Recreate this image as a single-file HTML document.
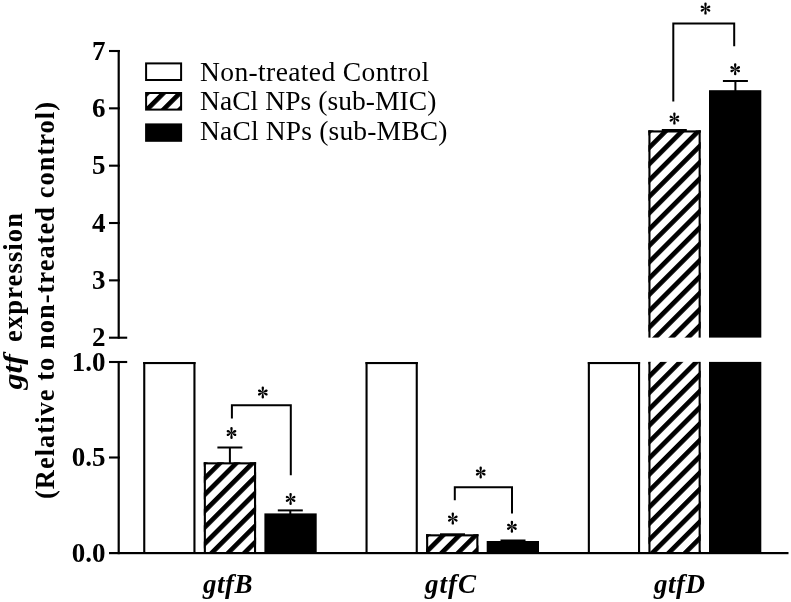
<!DOCTYPE html>
<html><head><meta charset="utf-8"><style>html,body{margin:0;padding:0;background:#fff;}svg{display:block;filter:grayscale(1);}</style></head>
<body><svg width="791" height="602" viewBox="0 0 791 602">
<defs>
<pattern id="pB" patternUnits="userSpaceOnUse" width="11.5541" height="20" patternTransform="translate(679.68,0) rotate(45)"><rect x="0" y="-1" width="4.7" height="22" fill="#000"/></pattern>
<pattern id="pC" patternUnits="userSpaceOnUse" width="11.5541" height="20" patternTransform="translate(991.28,0) rotate(45)"><rect x="0" y="-1" width="4.7" height="22" fill="#000"/></pattern>
<pattern id="pD" patternUnits="userSpaceOnUse" width="11.5541" height="20" patternTransform="translate(1022.28,0) rotate(45)"><rect x="0" y="-1" width="4.7" height="22" fill="#000"/></pattern>
<pattern id="pL" patternUnits="userSpaceOnUse" width="11.5541" height="20" patternTransform="translate(253.28,0) rotate(45)"><rect x="0" y="-1" width="4.7" height="22" fill="#000"/></pattern>
</defs>
<rect width="791" height="602" fill="#fff"/>
<g fill="#000">
<rect x="143.20" y="362" width="52.3" height="191.00" fill="#fff"/>
<rect x="143.20" y="362" width="2.1" height="191.00"/>
<rect x="193.40" y="362" width="2.1" height="191.00"/>
<rect x="143.20" y="362" width="52.3" height="2.1"/>
<rect x="203.80" y="462.3" width="52.3" height="90.70" fill="url(#pB)"/>
<rect x="203.80" y="462.3" width="2.1" height="90.70"/>
<rect x="254.00" y="462.3" width="2.1" height="90.70"/>
<rect x="203.80" y="462.3" width="52.3" height="2.1"/>
<rect x="264.40" y="513.4" width="52.3" height="39.60"/>
<rect x="365.50" y="362" width="52.3" height="191.00" fill="#fff"/>
<rect x="365.50" y="362" width="2.1" height="191.00"/>
<rect x="415.70" y="362" width="2.1" height="191.00"/>
<rect x="365.50" y="362" width="52.3" height="2.1"/>
<rect x="426.10" y="534.3" width="52.3" height="18.70" fill="url(#pC)"/>
<rect x="426.10" y="534.3" width="2.1" height="18.70"/>
<rect x="476.30" y="534.3" width="2.1" height="18.70"/>
<rect x="426.10" y="534.3" width="52.3" height="2.1"/>
<rect x="486.70" y="541.0" width="52.3" height="12.00"/>
<rect x="587.80" y="362" width="52.3" height="191.00" fill="#fff"/>
<rect x="587.80" y="362" width="2.1" height="191.00"/>
<rect x="638.00" y="362" width="2.1" height="191.00"/>
<rect x="587.80" y="362" width="52.3" height="2.1"/>
<rect x="648.40" y="361.9" width="52.3" height="191.10" fill="url(#pD)"/>
<rect x="648.40" y="361.9" width="2.1" height="191.10"/>
<rect x="698.60" y="361.9" width="2.1" height="191.10"/>
<rect x="648.40" y="130.4" width="52.3" height="207.20" fill="url(#pD)"/>
<rect x="648.40" y="130.4" width="2.1" height="207.20"/>
<rect x="698.60" y="130.4" width="2.1" height="207.20"/>
<rect x="648.40" y="130.4" width="52.3" height="2.1"/>
<rect x="709.00" y="361.9" width="52.3" height="191.10"/>
<rect x="709.00" y="90.2" width="52.3" height="247.40"/>
</g>
<g fill="#000">
<rect x="117.6" y="50" width="2.2" height="288.70"/>
<rect x="109" y="49.95" width="10.80" height="2.1"/>
<rect x="109" y="107.29" width="10.80" height="2.1"/>
<rect x="109" y="164.63" width="10.80" height="2.1"/>
<rect x="109" y="221.97" width="10.80" height="2.1"/>
<rect x="109" y="279.31" width="10.80" height="2.1"/>
<rect x="109" y="336.65" width="18.2" height="2.1"/>
<rect x="117.6" y="361" width="2.2" height="193.20"/>
<rect x="109" y="360.95" width="18.2" height="2.1"/>
<rect x="109" y="456.45" width="10.80" height="2.1"/>
<rect x="109" y="552" width="679.5" height="2.2"/>
</g>
<g fill="#000">
<rect x="228.9" y="447.5" width="2" height="15.80"/>
<rect x="217.4" y="446.5" width="25.0" height="2"/>
<rect x="289.3" y="510.4" width="2" height="4.00"/>
<rect x="277.8" y="509.4" width="25.0" height="2"/>
<rect x="451.5" y="534.3" width="2" height="1.00"/>
<rect x="440.0" y="533.3" width="25.0" height="2"/>
<rect x="512.0" y="540.5" width="2" height="1.50"/>
<rect x="500.5" y="539.5" width="25.0" height="2"/>
<rect x="673.3" y="130.0" width="2" height="1.40"/>
<rect x="661.8" y="129.0" width="25.0" height="2"/>
<rect x="734.4" y="81" width="2" height="10.20"/>
<rect x="722.9" y="80" width="25.0" height="2"/>
<path d="M231.9,418.4 V405.2 H290.8 V475.2" fill="none" stroke="#000" stroke-width="2"/>
<path d="M454.8,500.3 V487.3 H512.0 V513.6" fill="none" stroke="#000" stroke-width="2"/>
<path d="M673.3,101.6 V23.6 H734.2 V46.2" fill="none" stroke="#000" stroke-width="2"/>
<g transform="translate(262.8,392.5)"><path d="M-0.32,-0.5 C-0.5700000000000001,-1.5 -1.2,-3.20 -1.2,-4.80 A1.2,1.2 0 0 1 1.2,-4.80 C1.2,-3.20 0.5700000000000001,-1.5 0.32,-0.5 Z"/><path d="M-0.32,-0.5 C-0.5700000000000001,-1.5 -1.2,-3.20 -1.2,-4.80 A1.2,1.2 0 0 1 1.2,-4.80 C1.2,-3.20 0.5700000000000001,-1.5 0.32,-0.5 Z" transform="rotate(180)"/><path d="M-0.32,-0.5 C-0.5700000000000001,-1.5 -1.2,-2.50 -1.2,-4.10 A1.2,1.2 0 0 1 1.2,-4.10 C1.2,-2.50 0.5700000000000001,-1.5 0.32,-0.5 Z" transform="rotate(63)"/><path d="M-0.32,-0.5 C-0.5700000000000001,-1.5 -1.2,-2.50 -1.2,-4.10 A1.2,1.2 0 0 1 1.2,-4.10 C1.2,-2.50 0.5700000000000001,-1.5 0.32,-0.5 Z" transform="rotate(117)"/><path d="M-0.32,-0.5 C-0.5700000000000001,-1.5 -1.2,-2.50 -1.2,-4.10 A1.2,1.2 0 0 1 1.2,-4.10 C1.2,-2.50 0.5700000000000001,-1.5 0.32,-0.5 Z" transform="rotate(243)"/><path d="M-0.32,-0.5 C-0.5700000000000001,-1.5 -1.2,-2.50 -1.2,-4.10 A1.2,1.2 0 0 1 1.2,-4.10 C1.2,-2.50 0.5700000000000001,-1.5 0.32,-0.5 Z" transform="rotate(297)"/><circle r="0.75"/></g>
<g transform="translate(231.5,433)"><path d="M-0.32,-0.5 C-0.5700000000000001,-1.5 -1.2,-3.20 -1.2,-4.80 A1.2,1.2 0 0 1 1.2,-4.80 C1.2,-3.20 0.5700000000000001,-1.5 0.32,-0.5 Z"/><path d="M-0.32,-0.5 C-0.5700000000000001,-1.5 -1.2,-3.20 -1.2,-4.80 A1.2,1.2 0 0 1 1.2,-4.80 C1.2,-3.20 0.5700000000000001,-1.5 0.32,-0.5 Z" transform="rotate(180)"/><path d="M-0.32,-0.5 C-0.5700000000000001,-1.5 -1.2,-2.50 -1.2,-4.10 A1.2,1.2 0 0 1 1.2,-4.10 C1.2,-2.50 0.5700000000000001,-1.5 0.32,-0.5 Z" transform="rotate(63)"/><path d="M-0.32,-0.5 C-0.5700000000000001,-1.5 -1.2,-2.50 -1.2,-4.10 A1.2,1.2 0 0 1 1.2,-4.10 C1.2,-2.50 0.5700000000000001,-1.5 0.32,-0.5 Z" transform="rotate(117)"/><path d="M-0.32,-0.5 C-0.5700000000000001,-1.5 -1.2,-2.50 -1.2,-4.10 A1.2,1.2 0 0 1 1.2,-4.10 C1.2,-2.50 0.5700000000000001,-1.5 0.32,-0.5 Z" transform="rotate(243)"/><path d="M-0.32,-0.5 C-0.5700000000000001,-1.5 -1.2,-2.50 -1.2,-4.10 A1.2,1.2 0 0 1 1.2,-4.10 C1.2,-2.50 0.5700000000000001,-1.5 0.32,-0.5 Z" transform="rotate(297)"/><circle r="0.75"/></g>
<g transform="translate(290.6,498.9)"><path d="M-0.32,-0.5 C-0.5700000000000001,-1.5 -1.2,-3.20 -1.2,-4.80 A1.2,1.2 0 0 1 1.2,-4.80 C1.2,-3.20 0.5700000000000001,-1.5 0.32,-0.5 Z"/><path d="M-0.32,-0.5 C-0.5700000000000001,-1.5 -1.2,-3.20 -1.2,-4.80 A1.2,1.2 0 0 1 1.2,-4.80 C1.2,-3.20 0.5700000000000001,-1.5 0.32,-0.5 Z" transform="rotate(180)"/><path d="M-0.32,-0.5 C-0.5700000000000001,-1.5 -1.2,-2.50 -1.2,-4.10 A1.2,1.2 0 0 1 1.2,-4.10 C1.2,-2.50 0.5700000000000001,-1.5 0.32,-0.5 Z" transform="rotate(63)"/><path d="M-0.32,-0.5 C-0.5700000000000001,-1.5 -1.2,-2.50 -1.2,-4.10 A1.2,1.2 0 0 1 1.2,-4.10 C1.2,-2.50 0.5700000000000001,-1.5 0.32,-0.5 Z" transform="rotate(117)"/><path d="M-0.32,-0.5 C-0.5700000000000001,-1.5 -1.2,-2.50 -1.2,-4.10 A1.2,1.2 0 0 1 1.2,-4.10 C1.2,-2.50 0.5700000000000001,-1.5 0.32,-0.5 Z" transform="rotate(243)"/><path d="M-0.32,-0.5 C-0.5700000000000001,-1.5 -1.2,-2.50 -1.2,-4.10 A1.2,1.2 0 0 1 1.2,-4.10 C1.2,-2.50 0.5700000000000001,-1.5 0.32,-0.5 Z" transform="rotate(297)"/><circle r="0.75"/></g>
<g transform="translate(480.7,472.5)"><path d="M-0.32,-0.5 C-0.5700000000000001,-1.5 -1.2,-3.20 -1.2,-4.80 A1.2,1.2 0 0 1 1.2,-4.80 C1.2,-3.20 0.5700000000000001,-1.5 0.32,-0.5 Z"/><path d="M-0.32,-0.5 C-0.5700000000000001,-1.5 -1.2,-3.20 -1.2,-4.80 A1.2,1.2 0 0 1 1.2,-4.80 C1.2,-3.20 0.5700000000000001,-1.5 0.32,-0.5 Z" transform="rotate(180)"/><path d="M-0.32,-0.5 C-0.5700000000000001,-1.5 -1.2,-2.50 -1.2,-4.10 A1.2,1.2 0 0 1 1.2,-4.10 C1.2,-2.50 0.5700000000000001,-1.5 0.32,-0.5 Z" transform="rotate(63)"/><path d="M-0.32,-0.5 C-0.5700000000000001,-1.5 -1.2,-2.50 -1.2,-4.10 A1.2,1.2 0 0 1 1.2,-4.10 C1.2,-2.50 0.5700000000000001,-1.5 0.32,-0.5 Z" transform="rotate(117)"/><path d="M-0.32,-0.5 C-0.5700000000000001,-1.5 -1.2,-2.50 -1.2,-4.10 A1.2,1.2 0 0 1 1.2,-4.10 C1.2,-2.50 0.5700000000000001,-1.5 0.32,-0.5 Z" transform="rotate(243)"/><path d="M-0.32,-0.5 C-0.5700000000000001,-1.5 -1.2,-2.50 -1.2,-4.10 A1.2,1.2 0 0 1 1.2,-4.10 C1.2,-2.50 0.5700000000000001,-1.5 0.32,-0.5 Z" transform="rotate(297)"/><circle r="0.75"/></g>
<g transform="translate(452.8,518.6)"><path d="M-0.32,-0.5 C-0.5700000000000001,-1.5 -1.2,-3.20 -1.2,-4.80 A1.2,1.2 0 0 1 1.2,-4.80 C1.2,-3.20 0.5700000000000001,-1.5 0.32,-0.5 Z"/><path d="M-0.32,-0.5 C-0.5700000000000001,-1.5 -1.2,-3.20 -1.2,-4.80 A1.2,1.2 0 0 1 1.2,-4.80 C1.2,-3.20 0.5700000000000001,-1.5 0.32,-0.5 Z" transform="rotate(180)"/><path d="M-0.32,-0.5 C-0.5700000000000001,-1.5 -1.2,-2.50 -1.2,-4.10 A1.2,1.2 0 0 1 1.2,-4.10 C1.2,-2.50 0.5700000000000001,-1.5 0.32,-0.5 Z" transform="rotate(63)"/><path d="M-0.32,-0.5 C-0.5700000000000001,-1.5 -1.2,-2.50 -1.2,-4.10 A1.2,1.2 0 0 1 1.2,-4.10 C1.2,-2.50 0.5700000000000001,-1.5 0.32,-0.5 Z" transform="rotate(117)"/><path d="M-0.32,-0.5 C-0.5700000000000001,-1.5 -1.2,-2.50 -1.2,-4.10 A1.2,1.2 0 0 1 1.2,-4.10 C1.2,-2.50 0.5700000000000001,-1.5 0.32,-0.5 Z" transform="rotate(243)"/><path d="M-0.32,-0.5 C-0.5700000000000001,-1.5 -1.2,-2.50 -1.2,-4.10 A1.2,1.2 0 0 1 1.2,-4.10 C1.2,-2.50 0.5700000000000001,-1.5 0.32,-0.5 Z" transform="rotate(297)"/><circle r="0.75"/></g>
<g transform="translate(511.9,526.8)"><path d="M-0.32,-0.5 C-0.5700000000000001,-1.5 -1.2,-3.20 -1.2,-4.80 A1.2,1.2 0 0 1 1.2,-4.80 C1.2,-3.20 0.5700000000000001,-1.5 0.32,-0.5 Z"/><path d="M-0.32,-0.5 C-0.5700000000000001,-1.5 -1.2,-3.20 -1.2,-4.80 A1.2,1.2 0 0 1 1.2,-4.80 C1.2,-3.20 0.5700000000000001,-1.5 0.32,-0.5 Z" transform="rotate(180)"/><path d="M-0.32,-0.5 C-0.5700000000000001,-1.5 -1.2,-2.50 -1.2,-4.10 A1.2,1.2 0 0 1 1.2,-4.10 C1.2,-2.50 0.5700000000000001,-1.5 0.32,-0.5 Z" transform="rotate(63)"/><path d="M-0.32,-0.5 C-0.5700000000000001,-1.5 -1.2,-2.50 -1.2,-4.10 A1.2,1.2 0 0 1 1.2,-4.10 C1.2,-2.50 0.5700000000000001,-1.5 0.32,-0.5 Z" transform="rotate(117)"/><path d="M-0.32,-0.5 C-0.5700000000000001,-1.5 -1.2,-2.50 -1.2,-4.10 A1.2,1.2 0 0 1 1.2,-4.10 C1.2,-2.50 0.5700000000000001,-1.5 0.32,-0.5 Z" transform="rotate(243)"/><path d="M-0.32,-0.5 C-0.5700000000000001,-1.5 -1.2,-2.50 -1.2,-4.10 A1.2,1.2 0 0 1 1.2,-4.10 C1.2,-2.50 0.5700000000000001,-1.5 0.32,-0.5 Z" transform="rotate(297)"/><circle r="0.75"/></g>
<g transform="translate(705.5,8.6)"><path d="M-0.32,-0.5 C-0.5700000000000001,-1.5 -1.2,-3.20 -1.2,-4.80 A1.2,1.2 0 0 1 1.2,-4.80 C1.2,-3.20 0.5700000000000001,-1.5 0.32,-0.5 Z"/><path d="M-0.32,-0.5 C-0.5700000000000001,-1.5 -1.2,-3.20 -1.2,-4.80 A1.2,1.2 0 0 1 1.2,-4.80 C1.2,-3.20 0.5700000000000001,-1.5 0.32,-0.5 Z" transform="rotate(180)"/><path d="M-0.32,-0.5 C-0.5700000000000001,-1.5 -1.2,-2.50 -1.2,-4.10 A1.2,1.2 0 0 1 1.2,-4.10 C1.2,-2.50 0.5700000000000001,-1.5 0.32,-0.5 Z" transform="rotate(63)"/><path d="M-0.32,-0.5 C-0.5700000000000001,-1.5 -1.2,-2.50 -1.2,-4.10 A1.2,1.2 0 0 1 1.2,-4.10 C1.2,-2.50 0.5700000000000001,-1.5 0.32,-0.5 Z" transform="rotate(117)"/><path d="M-0.32,-0.5 C-0.5700000000000001,-1.5 -1.2,-2.50 -1.2,-4.10 A1.2,1.2 0 0 1 1.2,-4.10 C1.2,-2.50 0.5700000000000001,-1.5 0.32,-0.5 Z" transform="rotate(243)"/><path d="M-0.32,-0.5 C-0.5700000000000001,-1.5 -1.2,-2.50 -1.2,-4.10 A1.2,1.2 0 0 1 1.2,-4.10 C1.2,-2.50 0.5700000000000001,-1.5 0.32,-0.5 Z" transform="rotate(297)"/><circle r="0.75"/></g>
<g transform="translate(674.4,118.6)"><path d="M-0.32,-0.5 C-0.5700000000000001,-1.5 -1.2,-3.20 -1.2,-4.80 A1.2,1.2 0 0 1 1.2,-4.80 C1.2,-3.20 0.5700000000000001,-1.5 0.32,-0.5 Z"/><path d="M-0.32,-0.5 C-0.5700000000000001,-1.5 -1.2,-3.20 -1.2,-4.80 A1.2,1.2 0 0 1 1.2,-4.80 C1.2,-3.20 0.5700000000000001,-1.5 0.32,-0.5 Z" transform="rotate(180)"/><path d="M-0.32,-0.5 C-0.5700000000000001,-1.5 -1.2,-2.50 -1.2,-4.10 A1.2,1.2 0 0 1 1.2,-4.10 C1.2,-2.50 0.5700000000000001,-1.5 0.32,-0.5 Z" transform="rotate(63)"/><path d="M-0.32,-0.5 C-0.5700000000000001,-1.5 -1.2,-2.50 -1.2,-4.10 A1.2,1.2 0 0 1 1.2,-4.10 C1.2,-2.50 0.5700000000000001,-1.5 0.32,-0.5 Z" transform="rotate(117)"/><path d="M-0.32,-0.5 C-0.5700000000000001,-1.5 -1.2,-2.50 -1.2,-4.10 A1.2,1.2 0 0 1 1.2,-4.10 C1.2,-2.50 0.5700000000000001,-1.5 0.32,-0.5 Z" transform="rotate(243)"/><path d="M-0.32,-0.5 C-0.5700000000000001,-1.5 -1.2,-2.50 -1.2,-4.10 A1.2,1.2 0 0 1 1.2,-4.10 C1.2,-2.50 0.5700000000000001,-1.5 0.32,-0.5 Z" transform="rotate(297)"/><circle r="0.75"/></g>
<g transform="translate(735.2,69.2)"><path d="M-0.32,-0.5 C-0.5700000000000001,-1.5 -1.2,-3.20 -1.2,-4.80 A1.2,1.2 0 0 1 1.2,-4.80 C1.2,-3.20 0.5700000000000001,-1.5 0.32,-0.5 Z"/><path d="M-0.32,-0.5 C-0.5700000000000001,-1.5 -1.2,-3.20 -1.2,-4.80 A1.2,1.2 0 0 1 1.2,-4.80 C1.2,-3.20 0.5700000000000001,-1.5 0.32,-0.5 Z" transform="rotate(180)"/><path d="M-0.32,-0.5 C-0.5700000000000001,-1.5 -1.2,-2.50 -1.2,-4.10 A1.2,1.2 0 0 1 1.2,-4.10 C1.2,-2.50 0.5700000000000001,-1.5 0.32,-0.5 Z" transform="rotate(63)"/><path d="M-0.32,-0.5 C-0.5700000000000001,-1.5 -1.2,-2.50 -1.2,-4.10 A1.2,1.2 0 0 1 1.2,-4.10 C1.2,-2.50 0.5700000000000001,-1.5 0.32,-0.5 Z" transform="rotate(117)"/><path d="M-0.32,-0.5 C-0.5700000000000001,-1.5 -1.2,-2.50 -1.2,-4.10 A1.2,1.2 0 0 1 1.2,-4.10 C1.2,-2.50 0.5700000000000001,-1.5 0.32,-0.5 Z" transform="rotate(243)"/><path d="M-0.32,-0.5 C-0.5700000000000001,-1.5 -1.2,-2.50 -1.2,-4.10 A1.2,1.2 0 0 1 1.2,-4.10 C1.2,-2.50 0.5700000000000001,-1.5 0.32,-0.5 Z" transform="rotate(297)"/><circle r="0.75"/></g>
</g>
<rect x="146.1" y="63.4" width="35" height="16.6" fill="#fff" stroke="#000" stroke-width="2"/>
<rect x="146.1" y="93" width="35" height="16.6" fill="url(#pL)" stroke="#000" stroke-width="2"/>
<rect x="145.1" y="123.4" width="37" height="18.4" fill="#000"/>
<g font-family="Liberation Serif" font-size="27.5" fill="#000" lengthAdjust="spacing">
<text x="200" y="80.5" textLength="229.2">Non-treated Control</text>
<text x="200" y="110" textLength="236.4">NaCl NPs (sub-MIC)</text>
<text x="200" y="140" textLength="247.4">NaCl NPs (sub-MBC)</text>
</g>
<g font-family="Liberation Serif" font-weight="bold" font-size="27" fill="#000" text-anchor="end">
<text x="105.5" y="59.60">7</text>
<text x="105.5" y="116.94">6</text>
<text x="105.5" y="174.28">5</text>
<text x="105.5" y="231.62">4</text>
<text x="105.5" y="288.96">3</text>
<text x="105.5" y="346.30">2</text>
<text x="105.5" y="370.60">1.0</text>
<text x="105.5" y="466.10">0.5</text>
<text x="105.5" y="561.60">0.0</text>
</g>
<g font-family="Liberation Serif" font-weight="bold" font-style="italic" font-size="27" fill="#000">
<text x="203" y="593" textLength="49.5">gtfB</text>
<text x="425" y="593" textLength="51">gtfC</text>
<text x="654" y="593" textLength="51">gtfD</text>
</g>
<g font-family="Liberation Serif" font-weight="bold" font-size="26.5" fill="#000">
<text font-style="italic" transform="translate(21.5,389.5) rotate(-90)" textLength="35.5" lengthAdjust="spacingAndGlyphs">gtf</text>
<text transform="translate(21.5,342) rotate(-90)" textLength="129">expression</text>
<text transform="translate(54,499) rotate(-90)" textLength="397">(Relative to non-treated control)</text>
</g>
</svg></body></html>
